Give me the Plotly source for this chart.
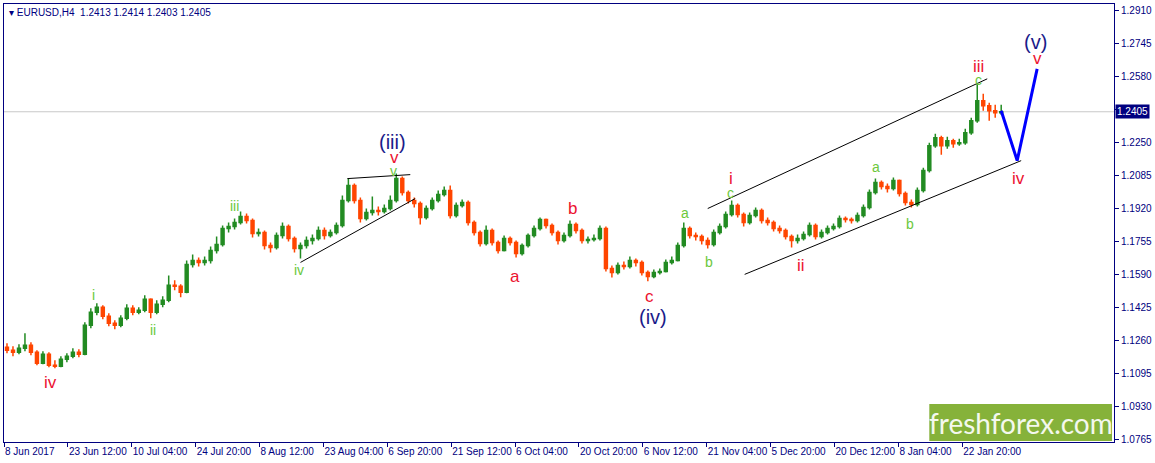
import plotly.graph_objects as go

# EURUSD daily candles (one candle per trading day)
opens = [
    1.1225, 1.1210, 1.1200, 1.1220, 1.1235, 1.1200, 1.1145, 1.1190, 1.1135, 1.1130,
    1.1165, 1.1180, 1.1200, 1.1190, 1.1335, 1.1400, 1.1425, 1.1380, 1.1345, 1.1335,
    1.1370, 1.1420, 1.1400, 1.1410, 1.1465, 1.1400, 1.1440, 1.1460, 1.1535, 1.1530,
    1.1500, 1.1640, 1.1660, 1.1650, 1.1660, 1.1710, 1.1740, 1.1820, 1.1830, 1.1850,
    1.1880, 1.1860, 1.1795, 1.1800, 1.1735, 1.1725, 1.1785, 1.1830, 1.1770, 1.1720,
    1.1735, 1.1760, 1.1770, 1.1810, 1.1785, 1.1800, 1.1835, 1.1960, 1.2035, 1.1960,
    1.1870, 1.1900, 1.1910, 1.1905, 1.1920, 1.1960, 1.2070, 1.2000, 1.1960, 1.1945,
    1.1875, 1.1920, 1.1960, 1.1990, 1.2010, 1.1885, 1.1935, 1.1950, 1.1850, 1.1800,
    1.1745, 1.1810, 1.1750, 1.1710, 1.1770, 1.1750, 1.1695, 1.1735, 1.1785, 1.1820,
    1.1865, 1.1835, 1.1800, 1.1760, 1.1785, 1.1840, 1.1810, 1.1760, 1.1765, 1.1770,
    1.1820, 1.1620, 1.1600, 1.1635, 1.1630, 1.1660, 1.1650, 1.1600, 1.1580, 1.1600,
    1.1605, 1.1650, 1.1660, 1.1735, 1.1820, 1.1785, 1.1780, 1.1760, 1.1740, 1.1800,
    1.1830, 1.1890, 1.1935, 1.1890, 1.1850, 1.1885, 1.1910, 1.1860, 1.1850, 1.1820,
    1.1810, 1.1780, 1.1760, 1.1770, 1.1790, 1.1835, 1.1780, 1.1800, 1.1820, 1.1830,
    1.1870, 1.1865, 1.1860, 1.1885, 1.1925, 1.2000, 1.2050, 1.2030, 1.2020, 1.2060,
    1.1995, 1.1950, 1.1940, 1.2010, 1.2110, 1.2235, 1.2275, 1.2235, 1.2260, 1.2245,
    1.2250, 1.2300, 1.2360, 1.2460, 1.2435, 1.2410, 1.2400,
]
highs = [
    1.1245, 1.1230, 1.1240, 1.1295, 1.1250, 1.1210, 1.1205, 1.1200, 1.1160, 1.1180,
    1.1195, 1.1220, 1.1215, 1.1350, 1.1420, 1.1445, 1.1435, 1.1395, 1.1360, 1.1385,
    1.1440, 1.1435, 1.1425, 1.1485, 1.1470, 1.1460, 1.1480, 1.1585, 1.1560, 1.1540,
    1.1660, 1.1690, 1.1675, 1.1680, 1.1730, 1.1780, 1.1835, 1.1850, 1.1870, 1.1905,
    1.1895, 1.1870, 1.1820, 1.1810, 1.1750, 1.1800, 1.1850, 1.1840, 1.1780, 1.1750,
    1.1780, 1.1790, 1.1830, 1.1825, 1.1815, 1.1850, 1.1985, 1.2070, 1.2045, 1.1975,
    1.1920, 1.1980, 1.1930, 1.1940, 1.1985, 1.2095, 1.2080, 1.2010, 1.1975, 1.1955,
    1.1935, 1.1975, 1.2010, 1.2030, 1.2035, 1.1950, 1.1965, 1.1960, 1.1860, 1.1810,
    1.1835, 1.1820, 1.1760, 1.1785, 1.1780, 1.1760, 1.1745, 1.1795, 1.1835, 1.1875,
    1.1870, 1.1845, 1.1810, 1.1800, 1.1860, 1.1850, 1.1820, 1.1780, 1.1790, 1.1835,
    1.1830, 1.1635, 1.1650, 1.1655, 1.1680, 1.1670, 1.1660, 1.1610, 1.1615, 1.1620,
    1.1665, 1.1680, 1.1750, 1.1850, 1.1830, 1.1800, 1.1790, 1.1775, 1.1815, 1.1845,
    1.1905, 1.1960, 1.1945, 1.1900, 1.1900, 1.1925, 1.1920, 1.1875, 1.1860, 1.1835,
    1.1820, 1.1790, 1.1790, 1.1805, 1.1850, 1.1845, 1.1815, 1.1835, 1.1845, 1.1885,
    1.1880, 1.1875, 1.1900, 1.1940, 1.2015, 1.2070, 1.2060, 1.2045, 1.2075, 1.2065,
    1.2005, 1.1965, 1.2025, 1.2125, 1.2250, 1.2295, 1.2285, 1.2280, 1.2270, 1.2270,
    1.2320, 1.2375, 1.2545, 1.2495, 1.2450, 1.2440, 1.2440,
]
lows = [
    1.1195, 1.1180, 1.1190, 1.1205, 1.1185, 1.1135, 1.1140, 1.1125, 1.1120, 1.1125,
    1.1150, 1.1170, 1.1175, 1.1185, 1.1320, 1.1385, 1.1365, 1.1330, 1.1315, 1.1325,
    1.1360, 1.1385, 1.1390, 1.1400, 1.1370, 1.1390, 1.1425, 1.1450, 1.1510, 1.1475,
    1.1495, 1.1625, 1.1630, 1.1635, 1.1645, 1.1695, 1.1730, 1.1800, 1.1815, 1.1840,
    1.1845, 1.1775, 1.1780, 1.1715, 1.1700, 1.1715, 1.1770, 1.1755, 1.1700, 1.1670,
    1.1720, 1.1740, 1.1760, 1.1765, 1.1775, 1.1790, 1.1825, 1.1950, 1.1945, 1.1850,
    1.1860, 1.1885, 1.1885, 1.1895, 1.1910, 1.1950, 1.1985, 1.1945, 1.1925, 1.1840,
    1.1865, 1.1910, 1.1950, 1.1980, 1.1870, 1.1875, 1.1925, 1.1835, 1.1785, 1.1730,
    1.1735, 1.1735, 1.1695, 1.1705, 1.1735, 1.1675, 1.1685, 1.1725, 1.1775, 1.1810,
    1.1820, 1.1785, 1.1740, 1.1750, 1.1775, 1.1795, 1.1745, 1.1745, 1.1755, 1.1760,
    1.1605, 1.1575, 1.1590, 1.1615, 1.1620, 1.1630, 1.1585, 1.1555, 1.1570, 1.1590,
    1.1600, 1.1640, 1.1655, 1.1725, 1.1770, 1.1760, 1.1740, 1.1720, 1.1730, 1.1790,
    1.1820, 1.1880, 1.1875, 1.1830, 1.1840, 1.1875, 1.1845, 1.1835, 1.1805, 1.1795,
    1.1765, 1.1725, 1.1745, 1.1760, 1.1780, 1.1765, 1.1770, 1.1790, 1.1810, 1.1820,
    1.1850, 1.1845, 1.1850, 1.1875, 1.1915, 1.1990, 1.2015, 1.2000, 1.2010, 1.1980,
    1.1935, 1.1925, 1.1930, 1.2000, 1.2100, 1.2225, 1.2190, 1.2220, 1.2225, 1.2235,
    1.2240, 1.2290, 1.2350, 1.2410, 1.2360, 1.2375, 1.2390,
]
closes = [
    1.1210, 1.1200, 1.1220, 1.1235, 1.1200, 1.1145, 1.1190, 1.1135, 1.1130, 1.1165,
    1.1180, 1.1200, 1.1190, 1.1335, 1.1400, 1.1425, 1.1380, 1.1345, 1.1335, 1.1370,
    1.1420, 1.1400, 1.1410, 1.1465, 1.1400, 1.1440, 1.1460, 1.1535, 1.1530, 1.1500,
    1.1640, 1.1660, 1.1650, 1.1660, 1.1710, 1.1740, 1.1820, 1.1830, 1.1850, 1.1880,
    1.1860, 1.1795, 1.1800, 1.1735, 1.1725, 1.1785, 1.1830, 1.1770, 1.1720, 1.1735,
    1.1760, 1.1770, 1.1810, 1.1785, 1.1800, 1.1835, 1.1960, 1.2035, 1.1960, 1.1870,
    1.1900, 1.1910, 1.1905, 1.1920, 1.1960, 1.2070, 1.2000, 1.1960, 1.1945, 1.1875,
    1.1920, 1.1960, 1.1990, 1.2010, 1.1885, 1.1935, 1.1950, 1.1850, 1.1800, 1.1745,
    1.1810, 1.1750, 1.1710, 1.1770, 1.1750, 1.1695, 1.1735, 1.1785, 1.1820, 1.1865,
    1.1835, 1.1800, 1.1760, 1.1785, 1.1840, 1.1810, 1.1760, 1.1765, 1.1770, 1.1820,
    1.1620, 1.1600, 1.1635, 1.1630, 1.1660, 1.1650, 1.1600, 1.1580, 1.1600, 1.1605,
    1.1650, 1.1660, 1.1735, 1.1820, 1.1785, 1.1780, 1.1760, 1.1740, 1.1800, 1.1830,
    1.1890, 1.1935, 1.1890, 1.1850, 1.1885, 1.1910, 1.1860, 1.1850, 1.1820, 1.1810,
    1.1780, 1.1760, 1.1770, 1.1790, 1.1835, 1.1780, 1.1800, 1.1820, 1.1830, 1.1870,
    1.1865, 1.1860, 1.1885, 1.1925, 1.2000, 1.2050, 1.2030, 1.2020, 1.2060, 1.1995,
    1.1950, 1.1940, 1.2010, 1.2110, 1.2235, 1.2275, 1.2235, 1.2260, 1.2245, 1.2250,
    1.2300, 1.2360, 1.2460, 1.2435, 1.2410, 1.2400, 1.2405,
]

# time axis labels, one every 64 H4 bars
tick_labels = ["8 Jun 2017", "23 Jun 12:00", "10 Jul 04:00", "24 Jul 20:00",
               "8 Aug 12:00", "23 Aug 04:00", "6 Sep 20:00", "21 Sep 12:00",
               "6 Oct 04:00", "20 Oct 20:00", "6 Nov 12:00", "21 Nov 04:00",
               "5 Dec 20:00", "20 Dec 12:00", "8 Jan 04:00", "22 Jan 20:00"]
# price scale; the 1.2415 level sits under the current price box
price_ticks = [1.2910, 1.2745, 1.2580, 1.2415, 1.2250, 1.2085, 1.1920, 1.1755,
               1.1590, 1.1425, 1.1260, 1.1095, 1.0930, 1.0765]
last_price = 1.2405

# Elliott wave labels: text, bar, price, style
wave_text = ["iv", "i", "ii", "iii", "iv", "(iii)", "v", "v",
             "a", "b", "c", "(iv)", "a", "b", "c", "i", "ii",
             "a", "b", "iii", "c", "iv", "(v)", "v"]
wave_bar = [47, 90, 149, 231, 296, 389, 391, 390,
            512, 570, 647, 650, 682, 706, 728, 728, 798,
            874, 908, 976, 976, 1016, 1033, 1035]
wave_price = [1.1050, 1.1485, 1.1310, 1.1935, 1.1610, 1.2255, 1.2175, 1.2110,
              1.1580, 1.1920, 1.1480, 1.1375, 1.1900, 1.1650, 1.2000, 1.2070, 1.1635,
              1.2130, 1.1845, 1.2630, 1.2565, 1.2070, 1.2755, 1.2670]
wave_kind = ["red", "green", "green", "green", "green", "navy", "red", "green",
             "red", "red", "red", "navy", "green", "green", "green", "red", "red",
             "green", "green", "red", "green", "red", "navy", "red"]

# hand drawn trend lines (bar, price pairs)
trend_lines = [
    ([344, 407], [1.2070, 1.2090]),
    ([297, 412], [1.1650, 1.1970]),
    ([705, 985], [1.1920, 1.2570]),
    ([742, 1019], [1.1590, 1.2160]),
]
forecast_bar = [999, 1015, 1035]
forecast_price = [1.2410, 1.2160, 1.2620]

NAVY = "#000080"
kind_style = {
    "red": dict(color="#EC1230", size=17),
    "green": dict(color="#6CC83C", size=14),
    "navy": dict(color="#1B1B8A", size=20),
}

fig = go.Figure()
fig.add_trace(go.Candlestick(
    x=[6 * d + 3 for d in range(len(closes))],
    open=opens, high=highs, low=lows, close=closes,
    increasing=dict(line=dict(color="#228B22", width=1.5), fillcolor="#228B22"),
    decreasing=dict(line=dict(color="#FF4500", width=1.5), fillcolor="#FF4500"),
    whiskerwidth=0, showlegend=False, hoverinfo="skip",
))

for xs, ys in trend_lines:
    fig.add_trace(go.Scatter(x=xs, y=ys, mode="lines", line=dict(color="black", width=1),
                             showlegend=False, hoverinfo="skip"))
fig.add_trace(go.Scatter(x=forecast_bar, y=forecast_price, mode="lines",
                         line=dict(color="#0000FF", width=3), showlegend=False, hoverinfo="skip"))

for t, xb, yp, k in zip(wave_text, wave_bar, wave_price, wave_kind):
    st = kind_style[k]
    fig.add_annotation(x=xb, y=yp, text=t, showarrow=False,
                       font=dict(family="Liberation Sans", size=st["size"], color=st["color"]))

# current price line and box
fig.add_hline(y=last_price, line=dict(color="#C8C8C8", width=1), layer="below")
fig.add_annotation(xref="paper", x=1.0, xanchor="left", y=last_price, yref="y",
                   text="1.2405", showarrow=False, bgcolor=NAVY, borderpad=1,
                   font=dict(family="Liberation Sans", size=10, color="white"), xshift=1)

# header
fig.add_annotation(xref="paper", yref="paper", x=0.003, y=0.997, xanchor="left", yanchor="top",
                   text="▾ EURUSD,H4  1.2413 1.2414 1.2403 1.2405", showarrow=False,
                   font=dict(family="Liberation Sans", size=10, color=NAVY))

# watermark
fig.add_shape(type="rect", xref="paper", yref="paper", x0=0.8336, x1=0.9982, y0=0.002, y1=0.0866,
              fillcolor="#86B23A", line=dict(width=0))
fig.add_annotation(xref="paper", yref="paper", x=0.916, y=0.044, xanchor="center", yanchor="middle",
                   text="freshforex.com", showarrow=False,
                   font=dict(family="Lato", size=28, color="#F4F8EE"))

fig.update_layout(
    width=1155, height=463,
    margin=dict(l=3, r=40, t=3, b=21),
    paper_bgcolor="white", plot_bgcolor="white",
    showlegend=False,
    xaxis=dict(
        range=[0, 1112], rangeslider=dict(visible=False),
        tickvals=[64 * i for i in range(len(tick_labels))], ticktext=tick_labels,
        ticks="outside", ticklen=4, tickcolor=NAVY, ticklabelposition="outside right",
        tickangle=0,
        showgrid=False, zeroline=False, showline=True, linecolor=NAVY, linewidth=1, mirror=True,
        tickfont=dict(family="Liberation Sans", size=10, color=NAVY),
    ),
    yaxis=dict(
        side="right", range=[1.0750, 1.2945],
        tickvals=price_ticks,
        ticktext=["" if abs(p - last_price) < 0.002 else "%.4f" % p for p in price_ticks],
        ticks="outside", ticklen=4, tickcolor=NAVY,
        showgrid=False, zeroline=False, showline=True, linecolor=NAVY, linewidth=1, mirror=True,
        tickfont=dict(family="Liberation Sans", size=10, color=NAVY),
    ),
)

fig.write_html("out.html", config={"displayModeBar": False},
               post_script="document.body.style.margin='0';")
